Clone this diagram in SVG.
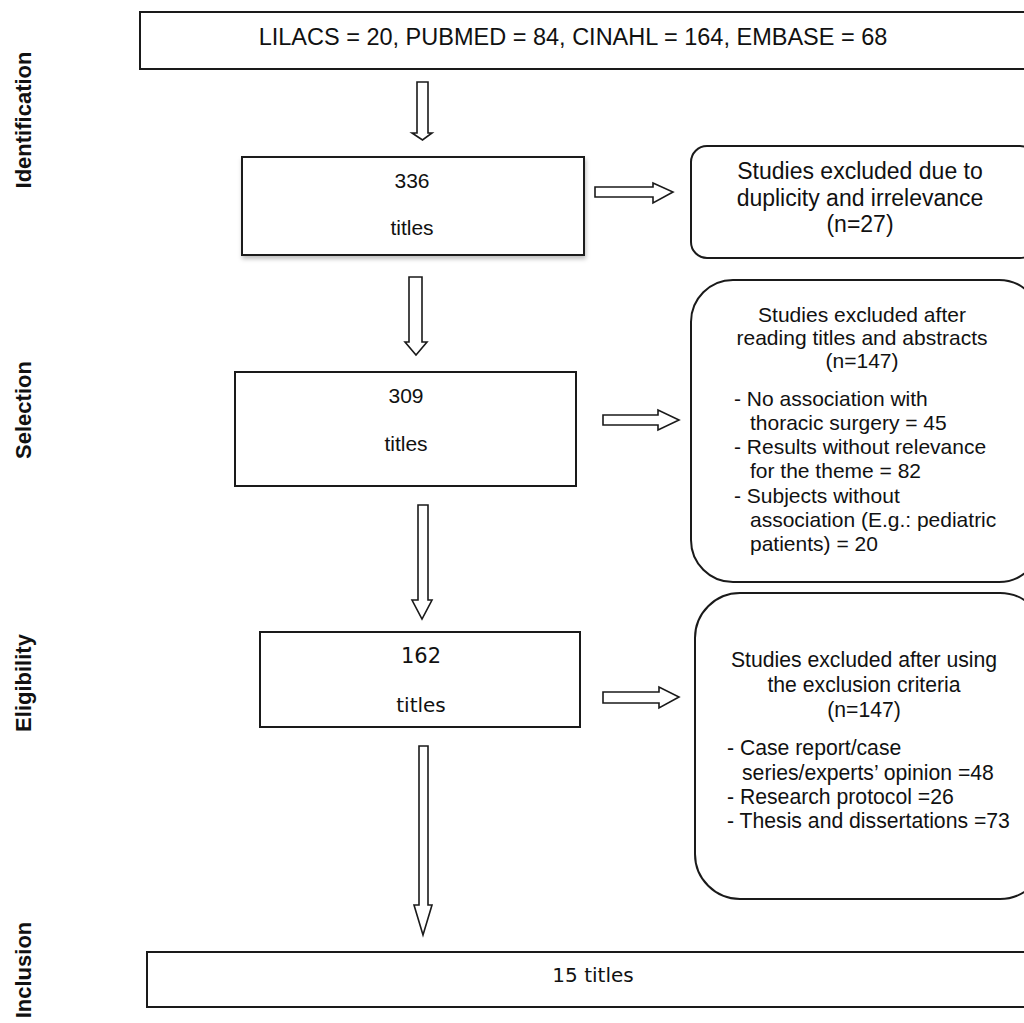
<svg xmlns="http://www.w3.org/2000/svg" width="1024" height="1023" viewBox="0 0 1024 1023">
<defs>
<style>
.box{fill:#fff;stroke:#1a1a1a;stroke-width:2}
.arr{fill:#fff;stroke:#1a1a1a;stroke-width:1.6;stroke-linejoin:miter}
.t{font-family:"Liberation Sans",Arial,sans-serif;fill:#111}
.c{text-anchor:middle}
.v{font-family:"DejaVu Sans",Verdana,sans-serif;fill:#111;text-anchor:middle}
.side{font-family:"Liberation Sans",Arial,sans-serif;font-weight:bold;font-size:22px;fill:#111;text-anchor:middle}
</style>
<filter id="sh" x="-5%" y="-5%" width="110%" height="115%">
<feDropShadow dx="1" dy="3" stdDeviation="2" flood-color="#000" flood-opacity="0.25"/>
</filter>
</defs>
<rect width="1024" height="1023" fill="#fff"/>

<g id="labels">
<text class="side" transform="translate(31,120) rotate(-90)">Identification</text>
<text class="side" transform="translate(31,410) rotate(-90)">Selection</text>
<text class="side" transform="translate(31,683) rotate(-90)">Eligibility</text>
<text class="side" transform="translate(31,970) rotate(-90)">Inclusion</text>
</g>

<g id="connectors">
<path class="arr" d="M417,82 H428 V133 H432 L422.5,140 L412,133 H417 Z"/>
<path class="arr" d="M409,277 H422 V342 H427 L416,355 L405,342 H409 Z"/>
<path class="arr" d="M418,505 H428 V600 H432 L422,619 L412,600 H418 Z"/>
<path class="arr" d="M419,746 H428 V905 H432 L423,935 L414,905 H419 Z"/>
<path class="arr" d="M595,187 H653 V183 L673,192 L653,203 V197 H595 Z"/>
<path class="arr" d="M603,415 H658 V410 L679,420 L658,430 V425 H603 Z"/>
<path class="arr" d="M603,692 H659 V687 L679,697 L659,708 V703 H603 Z"/>
</g>

<g id="n-sources">
<rect class="box" x="140" y="12" width="890" height="57"/>
<text class="t c" x="573" y="45" font-size="23.5">LILACS = 20, PUBMED = 84, CINAHL = 164, EMBASE = 68</text>
</g>

<g id="n-336">
<rect class="box" x="242" y="157" width="342" height="98" filter="url(#sh)"/>
<text class="t c" x="412" y="188" font-size="21">336</text>
<text class="t c" x="412" y="235" font-size="21">titles</text>
</g>

<g id="n-excl1">
<rect class="box" x="691" y="146" width="345" height="112" rx="16"/>
<text class="t c" x="860" y="179" font-size="23">Studies excluded due to</text>
<text class="t c" x="860" y="206" font-size="23">duplicity and irrelevance</text>
<text class="t c" x="860" y="232" font-size="23">(n=27)</text>
</g>

<g id="n-309">
<rect class="box" x="235" y="372" width="341" height="114"/>
<text class="t c" x="406" y="403" font-size="21">309</text>
<text class="t c" x="406" y="451" font-size="21">titles</text>
</g>

<g id="n-excl2">
<rect class="box" x="691" y="280" width="350" height="302" rx="42"/>
<text class="t c" x="862" y="322" font-size="21">Studies excluded after</text>
<text class="t c" x="862" y="345" font-size="21">reading titles and abstracts</text>
<text class="t c" x="862" y="368" font-size="21">(n=147)</text>
<text class="t" font-size="21">
<tspan x="734" y="406">- No association with</tspan>
<tspan x="750" y="430">thoracic surgery = 45</tspan>
<tspan x="734" y="454">- Results without relevance</tspan>
<tspan x="750" y="478">for the theme = 82</tspan>
<tspan x="734" y="503">- Subjects without</tspan>
<tspan x="750" y="527">association (E.g.: pediatric</tspan>
<tspan x="750" y="551">patients) = 20</tspan>
</text>
</g>

<g id="n-162">
<rect class="box" x="260" y="632" width="320" height="95"/>
<text class="v" x="421" y="663" font-size="21">162</text>
<text class="v" x="421" y="712" font-size="20">titles</text>
</g>

<g id="n-excl3">
<rect class="box" x="695" y="593" width="350" height="306" rx="45"/>
<text class="t c" x="864" y="667" font-size="21.2">Studies excluded after using</text>
<text class="t c" x="864" y="692" font-size="21.2">the exclusion criteria</text>
<text class="t c" x="864" y="717" font-size="21.2">(n=147)</text>
<text class="t" font-size="21.2">
<tspan x="727" y="755">- Case report/case</tspan>
<tspan x="742" y="780">series/experts’ opinion =48</tspan>
<tspan x="727" y="804">- Research protocol =26</tspan>
<tspan x="727" y="828">- Thesis and dissertations =73</tspan>
</text>
</g>

<g id="n-15">
<rect class="box" x="147" y="952" width="885" height="55"/>
<text class="v" x="593" y="982" font-size="20">15 titles</text>
</g>
</svg>
